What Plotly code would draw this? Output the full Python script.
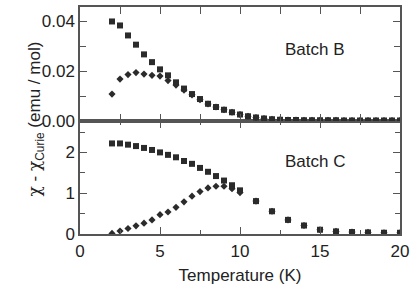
import plotly.graph_objects as go

# ---- Data ----
# Batch B (top panel), T step 0.5 K from 2 to 20
T_B = [2 + 0.5 * i for i in range(37)]
B_square = [0.0399, 0.0383, 0.0343, 0.0306, 0.0267, 0.0236, 0.0207, 0.0183, 0.0155,
            0.0130, 0.0108, 0.0088, 0.0069, 0.0056, 0.0045, 0.0035, 0.0026, 0.0019,
            0.0014, 0.0010, 0.0007, 0.0005, 0.0004, 0.0004, 0.0003, 0.0003, 0.0003,
            0.0003, 0.0003, 0.0002, 0.0002, 0.0002, 0.0002, 0.0002, 0.0002, 0.0002, 0.0002]
B_diamond = [0.0108, 0.0168, 0.0186, 0.0194, 0.0188, 0.0183, 0.0180, 0.0162, 0.0144,
             0.0124, 0.0105, 0.0085, 0.0068, 0.0056, 0.0045, 0.0035, 0.0026, 0.0019,
             0.0014, 0.0010, 0.0007, 0.0005, 0.0004, 0.0004, 0.0003, 0.0003, 0.0003,
             0.0003, 0.0003, 0.0002, 0.0002, 0.0002, 0.0002, 0.0002, 0.0002, 0.0002, 0.0002]

# Batch C (bottom panel)
T_C = [2, 2.5, 3, 3.5, 4, 4.5, 5, 5.5, 6, 6.5, 7, 7.5, 8, 8.5, 9, 9.5, 10,
       11, 12, 13, 14, 15, 16, 17, 18, 19, 20]
C_square = [2.22, 2.22, 2.19, 2.155, 2.11, 2.06, 2.00, 1.94, 1.88, 1.79, 1.72, 1.62,
            1.525, 1.42, 1.31, 1.195, 1.07,
            0.806, 0.557, 0.346, 0.208, 0.104, 0.063, 0.048, 0.039, 0.031, 0.030]
C_diamond = [0.015, 0.073, 0.136, 0.201, 0.266, 0.346, 0.475, 0.540, 0.654, 0.789, 0.927,
             1.040, 1.130, 1.170, 1.170, 1.110, 1.015,
             0.806, 0.557, 0.346, 0.208, 0.104, 0.063, 0.048, 0.039, 0.031, 0.030]

MC = "#2b2b2b"
FONT = "Liberation Sans, Arial, sans-serif"

fig = go.Figure()
fig.add_trace(go.Scatter(x=T_B, y=B_square, mode="markers", xaxis="x2", yaxis="y2",
                         marker=dict(symbol="square", size=6, color=MC)))
fig.add_trace(go.Scatter(x=T_B, y=B_diamond, mode="markers", xaxis="x2", yaxis="y2",
                         marker=dict(symbol="diamond", size=5.5, color=MC)))
fig.add_trace(go.Scatter(x=T_C, y=C_square, mode="markers", xaxis="x", yaxis="y",
                         marker=dict(symbol="square", size=6, color=MC)))
fig.add_trace(go.Scatter(x=T_C, y=C_diamond, mode="markers", xaxis="x", yaxis="y",
                         marker=dict(symbol="diamond", size=5.5, color=MC)))

LC = "#555555"
common = dict(showline=True, linecolor=LC, linewidth=1.5, mirror="allticks",
              ticks="inside", tickcolor=LC, tickwidth=1.2, showgrid=False, zeroline=False,
              tickfont=dict(family=FONT, size=17, color="#222"))

split = (234 - 120) / 229

fig.update_layout(
    width=415, height=291,
    margin=dict(l=80, r=15, t=5, b=57),
    paper_bgcolor="white", plot_bgcolor="white",
    showlegend=False,
    xaxis=dict(range=[0, 20], dtick=5, ticklen=7, ticklabelstandoff=1,
               minor=dict(dtick=2.5, ticklen=4, ticks="inside", tickcolor=LC, tickwidth=1.2),
               title=dict(text="Temperature (K)", font=dict(family=FONT, size=17, color="#222"),
                          standoff=9),
               anchor="y", **common),
    xaxis2=dict(range=[0, 20], dtick=2.5, ticklen=7, matches="x", showticklabels=False,
                anchor="y2", **common),
    yaxis=dict(range=[0, 2.77], dtick=1, ticklen=7, domain=[0, split],
               minor=dict(dtick=0.5, ticklen=5, ticks="inside", tickcolor=LC, tickwidth=1.2),
               anchor="x", **common),
    yaxis2=dict(range=[0, 0.0457], dtick=0.02, tickformat=".2f", ticklen=7, domain=[split, 1],
                minor=dict(dtick=0.01, ticklen=6, ticks="inside", tickcolor=LC, tickwidth=1.2),
                anchor="x2", **common),
)

fig.add_annotation(text="Batch B", x=14.7, y=0.0285, xref="x2", yref="y2", showarrow=False,
                   font=dict(family=FONT, size=17, color="#222"))
fig.add_annotation(text="Batch C", x=14.7, y=1.77, xref="x", yref="y", showarrow=False,
                   font=dict(family=FONT, size=17, color="#222"))
CHI = '<span style="font-family:DejaVu Serif">χ</span>'
fig.add_annotation(text=f"{CHI} - {CHI}<sub>Curie</sub> (emu / mol)", textangle=-90,
                   x=(22 - 80) / 320, y=(234 - 118) / 229, xref="paper", yref="paper",
                   showarrow=False, font=dict(family=FONT, size=17, color="#222"))

fig.write_html("out.html", config={"displayModeBar": False},
               post_script="document.body.style.margin='0';document.body.style.padding='0';")
